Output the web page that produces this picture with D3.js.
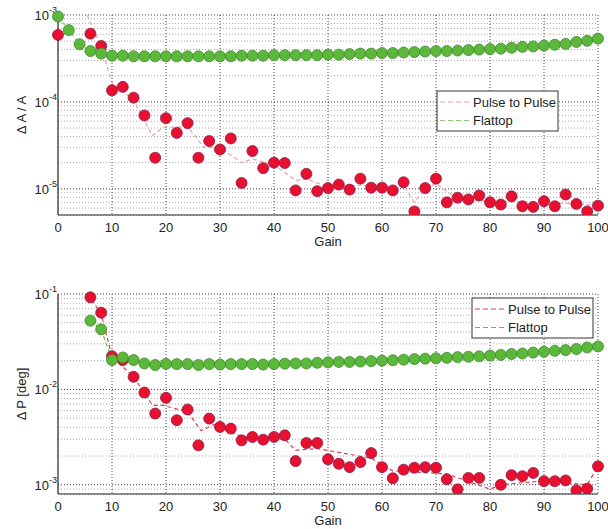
<!DOCTYPE html>
<html>
<head>
<meta charset="utf-8">
<script src="https://cdn.jsdelivr.net/npm/d3@7"></script>
<style>
  body { margin: 0; background: #fff; }
  text { font-family: "Liberation Sans", Arial, sans-serif; }
</style>
</head>
<body>
<div id="chart"></div>
<script>
// ---- data ----
// top panel: amplitude
var flatAGain = [0,2,4,6,8,10,12,14,16,18,20,22,24,26,28,30,32,34,36,38,40,42,44,46,48,50,52,54,56,58,60,62,64,66,68,70,72,74,76,78,80,82,84,86,88,90,92,94,96,98,100]
var flatAVal = [9.6e-4,6.7e-4,4.6e-4,3.85e-4,3.6e-4,3.4e-4,3.4e-4,3.35e-4,3.35e-4,3.35e-4,3.35e-4,3.35e-4,3.35e-4,3.35e-4,3.35e-4,3.35e-4,3.35e-4,3.4e-4,3.4e-4,3.4e-4,3.45e-4,3.45e-4,3.45e-4,3.45e-4,3.45e-4,3.5e-4,3.5e-4,3.55e-4,3.6e-4,3.6e-4,3.65e-4,3.65e-4,3.7e-4,3.75e-4,3.8e-4,3.85e-4,3.85e-4,3.9e-4,3.95e-4,4.0e-4,4.05e-4,4.1e-4,4.2e-4,4.3e-4,4.35e-4,4.45e-4,4.55e-4,4.65e-4,4.9e-4,5.05e-4,5.35e-4]
var pulseAGain = [0,6,8,10,12,14,16,18,20,22,24,26,28,30,32,34,36,38,40,42,44,46,48,50,52,54,56,58,60,62,64,66,68,70,72,74,76,78,80,82,84,86,88,90,92,94,96,98,100]
var pulseAVal = [5.9e-4,6.1e-4,4.4e-4,1.36e-4,1.49e-4,1.12e-4,7.0e-5,2.28e-5,6.5e-5,4.4e-5,5.7e-5,2.28e-5,3.55e-5,2.84e-5,3.8e-5,1.17e-5,2.72e-5,1.73e-5,2.0e-5,1.98e-5,9.6e-6,1.49e-5,9.4e-6,1.02e-5,1.12e-5,9.8e-6,1.31e-5,1.03e-5,1.03e-5,9.6e-6,1.19e-5,5.5e-6,1.02e-5,1.31e-5,7.0e-6,7.9e-6,7.55e-6,8.4e-6,7.0e-6,6.6e-6,8.2e-6,6.3e-6,6.2e-6,7.2e-6,6.3e-6,8.6e-6,6.7e-6,5.5e-6,6.4e-6]
// dashed trend of pulse to pulse (top)
var trendAGain = [5.4,8,10,14,17.5,19.5,24,27,30,34,36,40,44,46,50,56,62,64,66,68,70,74,80,90,100]
var trendAVal = [1e-3,4.4e-4,1.65e-4,1.05e-4,4.1e-5,5.1e-5,5.2e-5,3.0e-5,3.0e-5,2.0e-5,2.2e-5,1.9e-5,1.25e-5,1.3e-5,1.05e-5,1.1e-5,1.05e-5,1.1e-5,7e-6,1e-5,1.15e-5,7.6e-6,7.2e-6,7e-6,6.5e-6]

// bottom panel: phase
var flatPGain = [6,8,10,12,14,16,18,20,22,24,26,28,30,32,34,36,38,40,42,44,46,48,50,52,54,56,58,60,62,64,66,68,70,72,74,76,78,80,82,84,86,88,90,92,94,96,98,100]
var flatPVal = [0.0525,0.0426,0.0203,0.0216,0.0203,0.0187,0.018,0.0185,0.0184,0.0184,0.018,0.0184,0.0182,0.0184,0.0184,0.0184,0.0182,0.0184,0.0186,0.0187,0.0187,0.019,0.0192,0.0194,0.0194,0.0196,0.0198,0.02,0.0202,0.0205,0.0208,0.021,0.0212,0.0214,0.0218,0.022,0.0222,0.0226,0.023,0.0235,0.0238,0.0243,0.0248,0.0254,0.0258,0.0265,0.0275,0.0282]
var pulsePGain = [6,8,10,12,14,16,18,20,22,24,26,28,30,32,34,36,38,40,42,44,46,48,50,52,54,56,58,60,62,64,66,68,70,72,74,76,78,82,84,86,88,90,92,94,96,98,100]
var pulsePVal = [0.0923,0.0637,0.0223,0.0203,0.01355,0.00927,0.00558,0.00815,0.00475,0.00615,0.00259,0.00494,0.00404,0.00388,0.00292,0.00317,0.00297,0.00317,0.0033,0.00177,0.00274,0.00274,0.00185,0.00166,0.00153,0.00173,0.00215,0.00153,0.00117,0.00144,0.00151,0.00153,0.00151,0.00114,0.000895,0.00118,0.00118,0.001,0.00126,0.00123,0.00133,0.00109,0.00109,0.00111,0.000873,0.00091,0.00156]
var trendPGain = [5.5,8,10,14,17.5,19.5,24,26.5,29,34,42,44,48,58,62,72,80,82,90,98,100]
var trendPVal = [0.1,0.062,0.022,0.0135,0.0068,0.0068,0.0058,0.0037,0.0043,0.0032,0.003,0.0023,0.0024,0.0019,0.0014,0.0013,0.0009,0.001,0.0011,0.001,0.00156]

var xTicks = [0,10,20,30,40,50,60,70,80,90,100]
var legendNames = ["Pulse to Pulse", "Flattop"]

var W = 608, H = 529
var svg = d3.select("#chart").append("svg")
    .attr("width", W).attr("height", H)

var clipN = 0

function panel(o) {
    var x = d3.scaleLinear().domain([0, 100]).range([58, 598])
    var y = d3.scaleLog().domain(o.yDomain).range([o.bottom, o.top])
    var g = svg.append("g")

    // minor horizontal grid
    var lo = Math.floor(Math.log10(o.yDomain[0])), hi = Math.ceil(Math.log10(o.yDomain[1]))
    var minors = [], majors = []
    for (var e = lo; e < hi; e++) {
        majors.push(Math.pow(10, e))
        for (var m = 2; m < 10; m++) minors.push(m * Math.pow(10, e))
    }
    majors.push(Math.pow(10, hi))
    minors = minors.filter(function(v){ return v >= o.yDomain[0]*0.999 && v <= o.yDomain[1] })
    majors = majors.filter(function(v){ return v >= o.yDomain[0]*0.999 && v <= o.yDomain[1]*1.001 })

    g.selectAll(".minor").data(minors).enter().append("line")
        .attr("x1", 58).attr("x2", 598)
        .attr("y1", function(d){ return y(d) }).attr("y2", function(d){ return y(d) })
        .attr("stroke", "#a8a8a8").attr("stroke-width", 1).attr("stroke-dasharray", "1,2")
    g.selectAll(".major").data(majors).enter().append("line")
        .attr("x1", 58).attr("x2", 598)
        .attr("y1", function(d){ return y(d) }).attr("y2", function(d){ return y(d) })
        .attr("stroke", "#444").attr("stroke-width", 1).attr("stroke-dasharray", "1,2")
    g.selectAll(".vgrid").data(xTicks.slice(1)).enter().append("line")
        .attr("x1", function(d){ return x(d) }).attr("x2", function(d){ return x(d) })
        .attr("y1", o.top).attr("y2", o.bottom)
        .attr("stroke", "#444").attr("stroke-width", 1).attr("stroke-dasharray", "1,2")

    // axes
    g.append("line").attr("x1", 58).attr("x2", 598).attr("y1", o.bottom).attr("y2", o.bottom)
        .attr("stroke", "#222").attr("stroke-width", 1.2)
    g.append("line").attr("x1", 58).attr("x2", 58).attr("y1", o.top).attr("y2", o.bottom)
        .attr("stroke", "#222").attr("stroke-width", 1.2)

    g.selectAll(".xt").data(xTicks).enter().append("text")
        .attr("x", function(d){ return x(d) }).attr("y", o.bottom + 17)
        .attr("text-anchor", "middle").attr("font-size", 13).attr("fill", "#222")
        .text(function(d){ return d })
    g.append("text").attr("x", x(50)).attr("y", o.bottom + 31)
        .attr("text-anchor", "middle").attr("font-size", 13).attr("fill", "#222")
        .text("Gain")

    var yl = g.selectAll(".yt").data(majors).enter().append("text")
        .attr("x", 57).attr("y", function(d){ return y(d) + 5 })
        .attr("text-anchor", "end").attr("font-size", 13).attr("fill", "#222")
    yl.append("tspan").text("10")
    yl.append("tspan").attr("font-size", 9).attr("dy", -7)
        .text(function(d){ return Math.round(Math.log10(d)) })

    g.append("text")
        .attr("transform", "translate(26," + ((o.top + o.bottom)/2) + ") rotate(-90)")
        .attr("text-anchor", "middle").attr("font-size", 13).attr("fill", "#222")
        .text(o.yLabel)

    // clip for data
    var cid = "clip" + (clipN++)
    svg.append("clipPath").attr("id", cid).append("rect")
        .attr("x", 50).attr("y", o.top - 8).attr("width", 560).attr("height", o.bottom - o.top + 8)
    var dg = g.append("g").attr("clip-path", "url(#" + cid + ")")

    var line = d3.line().x(function(d){ return x(d[0]) }).y(function(d){ return y(d[1]) })
    var pulse = d3.zip(o.pulseGain, o.pulseVal)
    var flat = d3.zip(o.flatGain, o.flatVal)
    var trend = d3.zip(o.trendGain, o.trendVal)

    dg.append("path").datum(trend).attr("d", line)
        .attr("fill", "none").attr("stroke", o.redDash).attr("stroke-width", 1.2).attr("stroke-dasharray", "4,3")
    dg.append("path").datum(flat).attr("d", line)
        .attr("fill", "none").attr("stroke", o.greenDash).attr("stroke-width", 1.2).attr("stroke-dasharray", "4,3")

    dg.selectAll(".pr").data(pulse).enter().append("circle")
        .attr("cx", function(d){ return x(d[0]) }).attr("cy", function(d){ return y(d[1]) })
        .attr("r", 5.5).attr("fill", "#e8102e").attr("stroke", "#8a1a4a").attr("stroke-width", 0.8)
    dg.selectAll(".fg").data(flat).enter().append("circle")
        .attr("cx", function(d){ return x(d[0]) }).attr("cy", function(d){ return y(d[1]) })
        .attr("r", 5.5).attr("fill", "#5cb83a").attr("stroke", "#3c8a2c").attr("stroke-width", 0.8)

    // legend
    var L = o.legend
    g.append("rect").attr("x", L.x).attr("y", L.y).attr("width", 121).attr("height", 40)
        .attr("fill", "#fff").attr("stroke", "#333").attr("stroke-width", 1)
    var cols = [o.redDash, o.greenDash]
    legendNames.forEach(function(n, i){
        var ly = L.y + 11 + i*18.5
        g.append("line").attr("x1", L.x + 3).attr("x2", L.x + 35).attr("y1", ly).attr("y2", ly)
            .attr("stroke", cols[i]).attr("stroke-width", 1.2).attr("stroke-dasharray", "5,3")
        g.append("text").attr("x", L.x + 36).attr("y", ly + 4.5)
            .attr("font-size", 13).attr("fill", "#222").text(n)
    })
}

panel({
    top: 15, bottom: 215, yDomain: [5e-6, 1e-3], yLabel: "\u0394 A / A",
    pulseGain: pulseAGain, pulseVal: pulseAVal, flatGain: flatAGain, flatVal: flatAVal,
    trendGain: trendAGain, trendVal: trendAVal,
    redDash: "#eaa0aa", greenDash: "#8cc87a",
    legend: {x: 437, y: 91}
})
panel({
    top: 294, bottom: 494, yDomain: [8e-4, 0.1], yLabel: "\u0394 P [deg]",
    pulseGain: pulsePGain, pulseVal: pulsePVal, flatGain: flatPGain, flatVal: flatPVal,
    trendGain: trendPGain, trendVal: trendPVal,
    redDash: "#d8404e", greenDash: "#6ab84c",
    legend: {x: 472, y: 298}
})
</script>
</body>
</html>
